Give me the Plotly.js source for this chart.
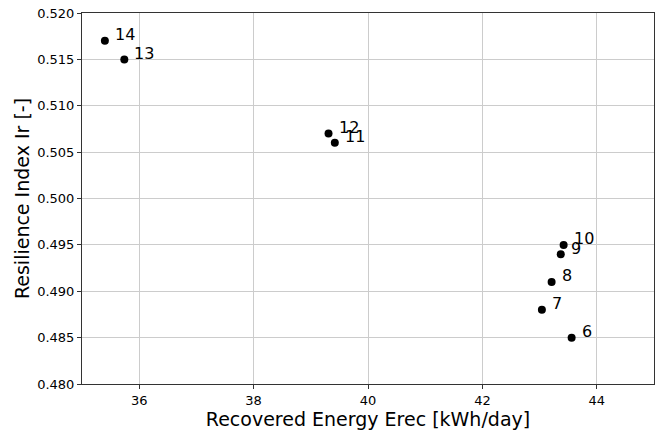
<!DOCTYPE html>
<html>
<head>
<meta charset="utf-8">
<script src="https://cdn.plot.ly/plotly-3.0.1.min.js"></script>
<style>html,body{margin:0;padding:0;background:#fff;}#chart{width:656px;height:430px;}</style>
</head>
<body>
<div id="chart"></div>
<script>
const labels = ["14", "13", "12", "11", "10", "9", "8", "7", "6"];
const energy = [35.40, 35.74, 39.31, 39.42, 43.42, 43.37, 43.21, 43.04, 43.56];
const resilience = [0.517, 0.515, 0.507, 0.506, 0.495, 0.494, 0.491, 0.488, 0.485];
const xTicks = [36, 38, 40, 42, 44];
const yTicks = [0.480, 0.485, 0.490, 0.495, 0.500, 0.505, 0.510, 0.515, 0.520];

const font = "DejaVu Sans, sans-serif";
const annotations = labels.map((t, i) => ({
  x: energy[i], y: resilience[i], text: t, showarrow: false,
  xanchor: 'left', yanchor: 'middle', xshift: 8, yshift: 6,
  font: {family: font, size: 16, color: '#000'}
}));

Plotly.newPlot('chart', [{
  x: energy, y: resilience, type: 'scatter', mode: 'markers',
  marker: {color: '#000', size: 8}, hoverinfo: 'none'
}], {
  width: 656, height: 430,
  margin: {l: 82, r: 2, t: 13, b: 46},
  paper_bgcolor: '#fff', plot_bgcolor: '#fff',
  showlegend: false,
  font: {family: font, color: '#000'},
  annotations: annotations,
  xaxis: {
    range: [35, 45], tickvals: xTicks, ticktext: xTicks.map(String),
    showgrid: true, gridcolor: '#cccccc', gridwidth: 1, zeroline: false,
    showline: true, linecolor: '#333', linewidth: 1, mirror: true,
    ticks: 'outside', ticklen: 4, tickcolor: '#333',
    tickfont: {family: font, size: 13, color: '#000'},
    title: {text: 'Recovered Energy Erec [kWh/day]', font: {family: font, size: 19, color: '#000'}, standoff: 0}
  },
  yaxis: {
    range: [0.480, 0.520], tickvals: yTicks, ticktext: yTicks.map(v => v.toFixed(3)),
    showgrid: true, gridcolor: '#cccccc', gridwidth: 1, zeroline: false,
    showline: true, linecolor: '#333', linewidth: 1, mirror: true,
    ticks: 'outside', ticklen: 4, tickcolor: '#333',
    tickfont: {family: font, size: 13, color: '#000'},
    title: {text: 'Resilience Index Ir [-]', font: {family: font, size: 19, color: '#000'}, standoff: 2}
  }
}, {staticPlot: true});
</script>
</body>
</html>
